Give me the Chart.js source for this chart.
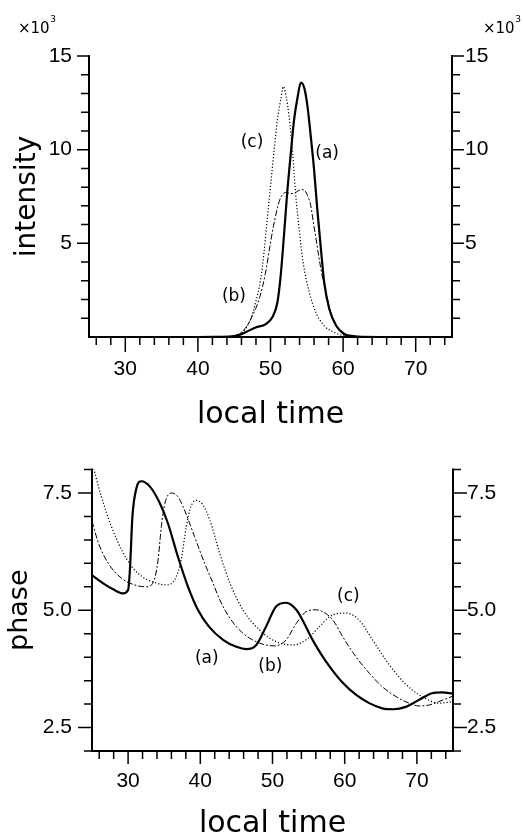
<!DOCTYPE html>
<html lang="en">
<head>
  <meta charset="UTF-8" />
  <title>intensity and phase vs local time</title>
  <script src="https://cdn.jsdelivr.net/npm/chart.js@4"></script>
  <style>
    html, body { margin: 0; padding: 0; background: #fff; }
    body { width: 523px; height: 838px; position: relative; overflow: hidden; }
    canvas { position: absolute; left: 0; }
    #top { top: 0; }
    #bottom { top: 400px; }
  </style>
</head>
<body>
<canvas id="top" width="523" height="440"></canvas>
<canvas id="bottom" width="523" height="438"></canvas>

<script>
  // intensity (x10^3) against local time
  const intTimeA = [25, 40, 43, 44.25, 45.6, 46.55, 47.95, 49.35, 50.25, 50.95, 51.4, 51.85, 52.3, 52.8, 53.25, 53.75, 54.18, 54.65, 55.1, 55.55, 56.0, 56.45, 56.95, 57.4, 58.1, 59.05, 60.15, 60.9, 62, 65, 75];
  const intA     = [0, 0, 0.01, 0.02, 0.1, 0.25, 0.51, 0.69, 1.05, 1.84, 3.26, 5.39, 7.7, 9.82, 11.6, 12.84, 13.58, 13.3, 12.3, 10.7, 8.94, 6.8, 4.68, 2.91, 1.49, 0.6, 0.16, 0.07, 0.02, 0, 0];

  const intTimeB = [25, 42, 44, 45.3, 46.5, 47.6, 48.5, 49.3, 49.9, 50.4, 50.9, 51.3, 51.7, 52.1, 52.6, 53.1, 53.6, 54.2, 54.7, 55.1, 55.55, 55.95, 56.25, 56.65, 57.15, 57.6, 58.15, 59.05, 60.15, 61, 62.5, 75];
  const intB     = [0, 0, 0.01, 0.1, 0.45, 1.2, 2.1, 3.4, 4.8, 5.9, 6.8, 7.35, 7.62, 7.72, 7.68, 7.65, 7.75, 7.87, 7.82, 7.55, 7.0, 6.0, 5.3, 4.3, 3.2, 2.5, 1.5, 0.6, 0.15, 0.05, 0.01, 0];

  const intTimeC = [25, 42, 44, 44.95, 45.85, 46.55, 47.25, 47.95, 48.65, 49.1, 49.55, 50.05, 50.5, 50.95, 51.4, 51.78, 52.15, 52.55, 53.05, 53.45, 53.95, 54.5, 55.35, 56.25, 57.4, 58.75, 60.15, 62, 75];
  const intC     = [0, 0, 0.01, 0.04, 0.16, 0.43, 0.96, 1.84, 3.09, 4.5, 6.28, 8.23, 10.0, 11.6, 12.66, 13.37, 12.84, 11.8, 9.82, 7.7, 5.74, 3.97, 2.38, 1.31, 0.6, 0.25, 0.07, 0.01, 0];

  // phase against local time
  const phTimeA = [25, 26.5, 28, 29.3, 30.0, 30.25, 30.6, 31.15, 31.85, 33.0, 34.4, 35.5, 36.9, 38.3, 39.7, 41.2, 43.15, 45.0, 46.4, 47.75, 49.1, 50.5, 51.9, 53.3, 54.3, 55.3, 56.3, 57.3, 58.3, 59.7, 61.55, 63.4, 65.2, 66.8, 68.45, 70.3, 72.1, 73.5, 75];
  const phA     = [5.75, 5.58, 5.44, 5.36, 5.43, 5.86, 7.0, 7.6, 7.75, 7.64, 7.28, 6.86, 6.14, 5.5, 5.0, 4.65, 4.37, 4.22, 4.17, 4.26, 4.65, 5.08, 5.16, 5.01, 4.75, 4.44, 4.17, 3.93, 3.72, 3.46, 3.2, 3.02, 2.91, 2.89, 2.94, 3.09, 3.23, 3.25, 3.22];

  const phTimeB = [25, 25.9, 27.25, 29.1, 30.9, 32.5, 33.5, 34.15, 34.6, 35.1, 36.0, 36.9, 37.8, 39.2, 40.6, 41.7, 42.7, 44.1, 45.9, 48.2, 50.3, 51.9, 53.3, 54.65, 56.0, 57.4, 58.55, 59.7, 61.55, 63.4, 65.2, 67.1, 68.9, 70.3, 71.7, 73.0, 75];
  const phB     = [6.9, 6.43, 6.0, 5.68, 5.54, 5.5, 5.6, 6.07, 6.78, 7.28, 7.5, 7.42, 7.14, 6.57, 6.0, 5.6, 5.22, 4.83, 4.51, 4.3, 4.24, 4.37, 4.72, 4.97, 5.01, 4.93, 4.75, 4.44, 4.01, 3.66, 3.37, 3.16, 3.02, 2.96, 2.98, 3.05, 3.17];

  const phTimeC = [25, 26.3, 27.7, 29.1, 30.5, 32.3, 33.7, 35.3, 36.45, 37.35, 38.05, 38.7, 39.4, 40.35, 41.3, 42.7, 44.1, 45.9, 48.2, 50.5, 52.8, 54.65, 56.5, 57.9, 59.0, 60.15, 62.0, 63.85, 65.7, 67.5, 69.35, 71.2, 73.0, 75];
  const phC     = [8.15, 7.42, 6.78, 6.29, 5.93, 5.68, 5.59, 5.54, 5.65, 6.07, 6.78, 7.21, 7.34, 7.25, 6.93, 6.21, 5.58, 5.01, 4.58, 4.33, 4.26, 4.37, 4.65, 4.86, 4.93, 4.94, 4.79, 4.37, 3.94, 3.58, 3.3, 3.12, 3.02, 3.05];

  // tick labels
  const timeTicks = [30, 40, 50, 60, 70];
  const intTicks = [5, 10, 15];
  const phTicks = [2.5, 5.0, 7.5];

  const TICK_FONT = { family: '"Liberation Sans", Arial, sans-serif', size: 21 };
  const TITLE_FAMILY = '"DejaVu Sans", sans-serif';

  function series(ts, vs) {
    return ts.map((t, i) => ({ x: t, y: vs[i] }));
  }

  function onStep(v, step) {
    const r = v / step;
    return Math.abs(r - Math.round(r)) < 1e-6;
  }

  // axis frame, minor/major tick marks, curve labels
  const frame = {
    id: 'frame',
    afterDatasetsDraw(chart, args, o) {
      const { ctx, chartArea: a, scales: { x, y } } = chart;
      ctx.save();
      ctx.strokeStyle = '#000';
      ctx.lineWidth = 2;
      ctx.lineCap = 'square';
      ctx.beginPath();
      ctx.moveTo(a.left, a.top);
      ctx.lineTo(a.left, a.bottom);
      ctx.lineTo(a.right, a.bottom);
      ctx.lineTo(a.right, a.top);
      ctx.stroke();

      ctx.lineWidth = 1.5;
      ctx.lineCap = 'butt';
      ctx.beginPath();
      const ny = Math.round((o.yTo - o.yFrom) / o.yStep);
      for (let i = 0; i <= ny; i++) {
        const v = o.yFrom + i * o.yStep;
        const py = y.getPixelForValue(v);
        const len = onStep(v, o.yMajor) ? o.yMajorLen : 8;
        ctx.moveTo(a.left - len, py); ctx.lineTo(a.left, py);
        ctx.moveTo(a.right, py); ctx.lineTo(a.right + len, py);
      }
      for (let v = 26; v <= 74; v += 2) {
        const px = x.getPixelForValue(v);
        const len = onStep(v, 10) ? o.xMajorLen : 8;
        ctx.moveTo(px, a.bottom); ctx.lineTo(px, a.bottom + len);
      }
      ctx.stroke();

      ctx.fillStyle = '#000';
      ctx.textAlign = 'center';
      ctx.textBaseline = 'middle';
      ctx.font = '17px ' + TITLE_FAMILY;
      o.notes.forEach(n => ctx.fillText(n.text, x.getPixelForValue(n.x), y.getPixelForValue(n.y)));

      if (o.exponent) {
        ctx.textAlign = 'left';
        ctx.textBaseline = 'alphabetic';
        [18, 483].forEach(left => {
          ctx.font = '15px ' + TITLE_FAMILY;
          ctx.fillText('×10', left, 33);
          const w = ctx.measureText('×10').width;
          ctx.font = '9px ' + TITLE_FAMILY;
          ctx.fillText('3', left + w + 0.5, 22);
        });
      }
      ctx.restore();
    }
  };

  function timeAxis(height, pad, titlePad, lineHeight) {
    return {
      type: 'linear', min: 25, max: 75,
      afterBuildTicks: s => { s.ticks = timeTicks.map(v => ({ value: v })); },
      afterFit: s => { s.height = height; },
      ticks: { font: TICK_FONT, color: '#000', padding: pad, maxRotation: 0 },
      grid: { display: false, drawTicks: false },
      border: { display: false },
      title: { display: true, text: 'local time', color: '#000',
               font: { family: TITLE_FAMILY, size: 30, lineHeight: lineHeight },
               padding: { top: 0, bottom: titlePad } }
    };
  }

  function valueAxis(side, width, min, max, ticks, fmt, pad, title) {
    const ax = {
      type: 'linear', position: side, min: min, max: max,
      afterBuildTicks: s => { s.ticks = ticks.map(v => ({ value: v })); },
      afterFit: s => { s.width = width; },
      ticks: { font: TICK_FONT, color: '#000', padding: pad, callback: fmt },
      grid: { display: false, drawTicks: false },
      border: { display: false }
    };
    if (title) ax.title = title;
    return ax;
  }

  const common = {
    responsive: false,
    animation: false,
    elements: { point: { radius: 0 }, line: { cubicInterpolationMode: 'monotone', fill: false } },
  };

  function curves(ta, a, tb, b, tc, c) {
    return [
      { data: series(ta, a), borderColor: '#000', borderWidth: 2.2 },
      { data: series(tb, b), borderColor: '#000', borderWidth: 1, borderDash: [6, 2, 2, 2] },
      { data: series(tc, c), borderColor: '#000', borderWidth: 1.2, borderDash: [1.2, 2] }
    ];
  }

  new Chart(document.getElementById('top'), {
    type: 'line',
    data: { datasets: curves(intTimeA, intA, intTimeB, intB, intTimeC, intC) },
    options: Object.assign({}, common, {
      layout: { padding: { top: 56, left: 0, right: 0, bottom: 0 } },
      plugins: {
        legend: { display: false },
        tooltip: { enabled: false },
        frame: {
          yFrom: 1, yTo: 15, yStep: 1, yMajor: 5, yMajorLen: 12, xMajorLen: 15, exponent: true,
          notes: [
            { text: '(a)', x: 57.8, y: 9.77 },
            { text: '(b)', x: 44.96, y: 2.14 },
            { text: '(c)', x: 47.45, y: 10.36 }
          ]
        }
      },
      scales: {
        x: timeAxis(103, 20, 9.5, 1),
        y: valueAxis('left', 89, 0, 15, intTicks, v => v, 17,
          { display: true, text: 'intensity', color: '#000',
            font: { family: TITLE_FAMILY, size: 28, lineHeight: 1 }, padding: { top: 14, bottom: 0 } }),
        y2: valueAxis('right', 71, 0, 15, intTicks, v => v, 13)
      }
    }),
    plugins: [frame]
  });

  new Chart(document.getElementById('bottom'), {
    type: 'line',
    data: { datasets: curves(phTimeA, phA, phTimeB, phB, phTimeC, phC) },
    options: Object.assign({}, common, {
      layout: { padding: { top: 69.5, left: 0, right: 0, bottom: 0 } },
      plugins: {
        legend: { display: false },
        tooltip: { enabled: false },
        frame: {
          yFrom: 2, yTo: 8, yStep: 0.5, yMajor: 2.5, yMajorLen: 14, xMajorLen: 13, exponent: false,
          notes: [
            { text: '(a)', x: 40.9, y: 3.98 },
            { text: '(b)', x: 49.7, y: 3.79 },
            { text: '(c)', x: 60.5, y: 5.30 }
          ]
        }
      },
      scales: {
        x: timeAxis(87, 18, 0, 0.9),
        y: valueAxis('left', 92, 2, 8, phTicks, v => v.toFixed(1), 20,
          { display: true, text: 'phase', color: '#000',
            font: { family: TITLE_FAMILY, size: 27, lineHeight: 1 }, padding: { top: 6.5, bottom: 0 } }),
        y2: valueAxis('right', 70, 2, 8, phTicks, v => v.toFixed(1), 14)
      }
    }),
    plugins: [frame]
  });
</script>
</body>
</html>
